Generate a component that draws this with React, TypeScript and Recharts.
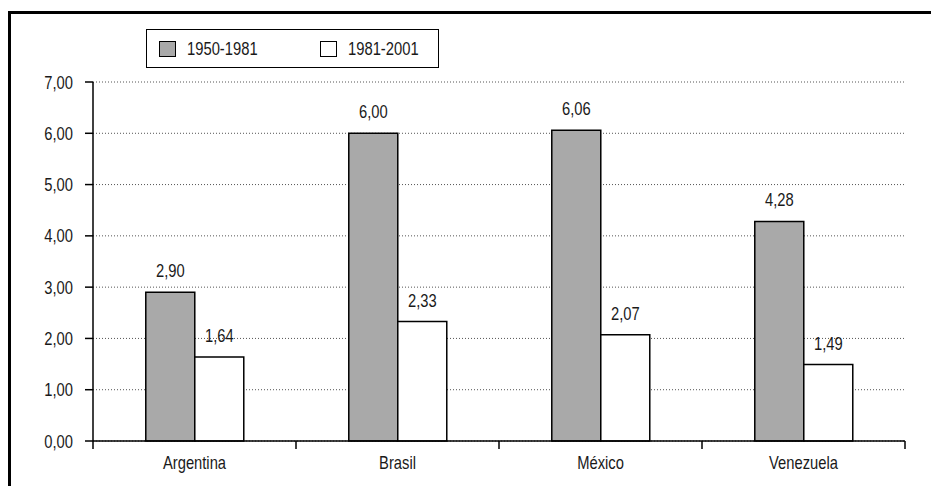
import React from 'react';
import {
  BarChart,
  Bar,
  XAxis,
  YAxis,
  CartesianGrid,
  LabelList
} from 'recharts';

// Países y tasas de crecimiento por período
const countries = ['Argentina', 'Brasil', 'México', 'Venezuela'];
const seriesNames = ['1950-1981', '1981-2001'];
const period1 = [2.9, 6.0, 6.06, 4.28];
const period2 = [1.64, 2.33, 2.07, 1.49];
const yTicks = [0, 1, 2, 3, 4, 5, 6, 7];

const data = countries.map((name, i) => ({
  name,
  p1: period1[i],
  p2: period2[i]
}));

// fuente condensada: Liberation Sans comprimida horizontalmente
const FONT = '"Liberation Sans", Arial, sans-serif';
const FS = 18;
const SQUEEZE = 0.82;
const INK = '#1a1a1a';
const GRAY = '#a9a9a9';
const COLORS = [GRAY, '#fff'];

const fmt = (v: number) => v.toFixed(2).replace('.', ',');

const W = 931;
const H = 486;
const M = { top: 82, right: 26, bottom: 15, left: 33 };
const Y_W = 60;
const X_H = 30;
const band = (W - M.left - Y_W - M.right) / countries.length;

const NarrowText = ({ x, y, anchor, children }: any) => (
  <text
    transform={`translate(${x},${y}) scale(${SQUEEZE},1)`}
    textAnchor={anchor}
    fontFamily={FONT}
    fontSize={FS}
    fill={INK}
  >
    {children}
  </text>
);

// ticks del eje X en los límites de cada categoría, etiqueta al centro
const XTick = (props: any) => {
  const { x, y, payload, index } = props;
  const left = x - band / 2;
  return (
    <g>
      <line x1={left} y1={y - 8} x2={left} y2={y} stroke="#000" strokeWidth={1.5} />
      {index === countries.length - 1 && (
        <line x1={x + band / 2} y1={y - 8} x2={x + band / 2} y2={y} stroke="#000" strokeWidth={1.5} />
      )}
      <NarrowText x={x} y={y + 20} anchor="middle">{payload.value}</NarrowText>
    </g>
  );
};

const YTick = (props: any) => {
  const { x, y, payload } = props;
  return (
    <NarrowText x={x - 10} y={y + 6.5} anchor="end">{fmt(payload.value)}</NarrowText>
  );
};

const BarLabel = (props: any) => {
  const { x, y, width, value } = props;
  return (
    <NarrowText x={x + width / 2} y={y - 15} anchor="middle">{fmt(Number(value))}</NarrowText>
  );
};

const LegendBox = () => (
  <div
    style={{
      position: 'absolute',
      left: 146,
      top: 29,
      width: 293,
      height: 39,
      border: '1.5px solid #000',
      boxSizing: 'border-box',
      background: '#fff'
    }}
  >
    {seriesNames.map((name, i) => (
      <div key={name} style={{ position: 'absolute', left: i === 0 ? 12 : 173, top: 11, display: 'flex', alignItems: 'center' }}>
        <span
          style={{
            display: 'inline-block',
            width: 17,
            height: 16,
            border: '1px solid #000',
            boxSizing: 'border-box',
            background: COLORS[i]
          }}
        />
        <span
          style={{
            display: 'inline-block',
            marginLeft: 11,
            fontFamily: FONT,
            fontSize: FS,
            color: INK,
            lineHeight: '16px',
            transform: `scaleX(${SQUEEZE})`,
            transformOrigin: 'left center'
          }}
        >
          {name}
        </span>
      </div>
    ))}
  </div>
);

export default function App() {
  return (
    <div style={{ position: 'fixed', left: 0, top: 0, width: W, height: H, background: '#fff', overflow: 'hidden' }}>
      <div
        style={{
          position: 'absolute',
          left: 8,
          top: 11,
          width: 960,
          height: 520,
          border: '3px solid #000',
          boxSizing: 'border-box'
        }}
      />
      <div style={{ position: 'absolute', left: 0, top: 0 }}>
        <BarChart width={W} height={H} data={data} margin={M} barCategoryGap="26%" barGap={0}>
          <CartesianGrid vertical={false} stroke="#555" strokeDasharray="1 2" />
          <XAxis
            dataKey="name"
            height={X_H}
            tickLine={false}
            axisLine={{ stroke: '#000', strokeWidth: 1.5 }}
            tick={<XTick />}
            interval={0}
          />
          <YAxis
            width={Y_W}
            domain={[0, 7]}
            ticks={yTicks}
            tickSize={8}
            tickLine={{ stroke: '#000', strokeWidth: 1.5 }}
            axisLine={{ stroke: '#000', strokeWidth: 1.5 }}
            tick={<YTick />}
          />
          <Bar dataKey="p1" name={seriesNames[0]} fill={COLORS[0]} stroke="#000" strokeWidth={1.5} isAnimationActive={false}>
            <LabelList dataKey="p1" content={<BarLabel />} />
          </Bar>
          <Bar dataKey="p2" name={seriesNames[1]} fill={COLORS[1]} stroke="#000" strokeWidth={1.5} isAnimationActive={false}>
            <LabelList dataKey="p2" content={<BarLabel />} />
          </Bar>
        </BarChart>
      </div>
      <LegendBox />
    </div>
  );
}
